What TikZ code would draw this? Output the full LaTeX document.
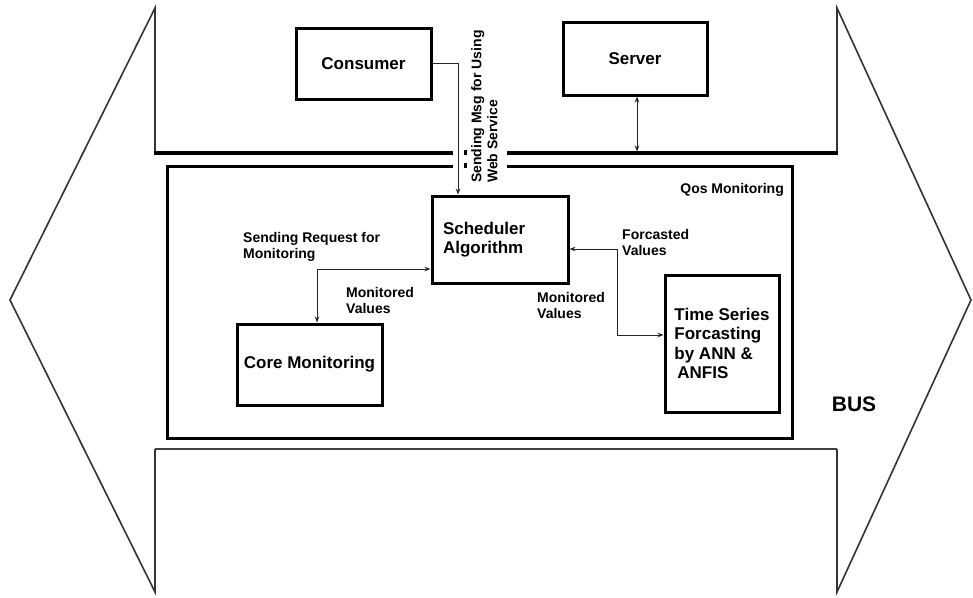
\documentclass[tikz,border=0pt]{standalone}
\usepackage{fontspec}
\setmainfont{Liberation Sans}
\usetikzlibrary{arrows.meta,calc}
\begin{document}
\begin{tikzpicture}[x=1pt,y=-1pt,
  box/.style={draw, line width=3pt, inner sep=0pt, font=\fontsize{17}{19.5}\selectfont\bfseries},
  lbl/.style={inner sep=0pt, align=left, font=\fontsize{14}{16}\selectfont\bfseries, anchor=north west},
  conn/.style={draw=black!85, line width=0.9pt, -{Stealth[length=6pt,width=4.5pt]}},
  bconn/.style={draw=black!85, line width=0.9pt, {Stealth[length=6pt,width=4.5pt]}-{Stealth[length=6pt,width=4.5pt]}},
  busline/.style={draw=black!80, line width=1.6pt, line join=miter},
  busbar/.style={draw=black, line width=3.2pt},
  lowbar/.style={draw=black!75, line width=2pt}]
\useasboundingbox (0,0) rectangle (973,597);
\fill[white] (0,0) rectangle (973,597);

% bus outline
\draw[busline] (155,153) -- (155,8) -- (10,300) -- (155,592) -- (155,449);
\draw[busline] (837,153) -- (837,8) -- (971,300) -- (837,592) -- (837,449);
\draw[busbar] (154,153) -- (453,153);
\draw[busbar] (507,153) -- (838,153);
\draw[lowbar] (155,449) -- (837,449);
\fill (463.5,150) rectangle (467,154.5);
\fill (463.5,163) rectangle (467,167.5);

% QoS monitoring box
\draw[line width=3pt] (453,166) -- (167,166) -- (167,438) -- (792,438) -- (792,166) -- (507,166);

% boxes
\node[box, minimum width=135pt, minimum height=71pt] (consumer) at (363.5,63.5) {Consumer};
\node[box, minimum width=144pt, minimum height=73pt] (server) at (635,58.5) {Server};
\node[box, minimum width=136pt, minimum height=87pt, inner xsep=11pt, text width=114pt, align=left,
      font=\fontsize{17}{19}\selectfont\bfseries] (sched) at (500,239.5) {Scheduler\\Algorithm};
\node[box, minimum width=145pt, minimum height=81pt] (core) at (309.5,364.5) {Core Monitoring};
\node[box, minimum width=114pt, minimum height=137pt, align=left] (ts) at (722,343.5)
  {Time Series\\Forcasting\\by ANN \&\\\hspace{3pt}ANFIS};

% labels
\node[lbl, rotate=90] (msg) at (471,183) {Sending Msg for Using\\Web Service};
\node[lbl] (req) at (243,232) {Sending Request for\\Monitoring};
\node[lbl] (mon1) at (346,287) {Monitored\\Values};
\node[lbl] (fc) at (622,229) {Forcasted\\Values};
\node[lbl] (mon2) at (537,292) {Monitored\\Values};
\node[lbl, anchor=east] (qos) at (784,190) {Qos Monitoring};
\node[inner sep=0pt, font=\fontsize{21}{24}\selectfont\bfseries] (bus) at (854,404) {BUS};

% connectors
\coordinate (schedin) at ([xshift=-42pt]sched.north);
\draw[conn] (consumer.east) -| (schedin);
\coordinate (busup) at (637,151.5);
\draw[bconn] ([xshift=2pt]server.south) -- (busup);
\coordinate (rq) at (317,269);
\draw[conn] (rq) -- (rq -| sched.west);
\draw[conn] (rq) -- (rq |- core.north);
\coordinate (k1) at (617,249);
\coordinate (k2) at (617,335);
\draw[bconn] (k1 -| sched.east) -- (k1) -- (k2) -- (k2 -| ts.west);
\end{tikzpicture}
\end{document}
